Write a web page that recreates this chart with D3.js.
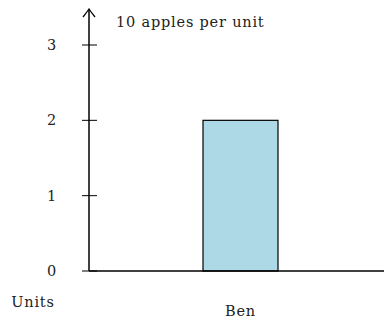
<!DOCTYPE html>
<html>
<head>
<meta charset="utf-8">
<script src="https://cdn.jsdelivr.net/npm/d3@7"></script>
<style>
  body { margin: 0; background: #fff; }
  text { font-family: "DejaVu Serif", serif; font-size: 14.5px; letter-spacing: 0.8px; fill: #222; }
</style>
</head>
<body>
<div id="chart"></div>
<script>
const categories = ["Ben"];
const values = [2];
const yTicks = [0, 1, 2, 3];
const title = "10 apples per unit";
const yLabel = "Units";

const width = 384, height = 320;
const x0 = 89, y0 = 271;

const svg = d3.select("#chart").append("svg")
    .attr("width", width)
    .attr("height", height);

const y = d3.scaleLinear().domain([0, 3]).range([y0, 45]);
const x = d3.scaleBand().domain(categories).range([128, 353]).padding(0.5);

// bars
svg.selectAll("rect.bar")
    .data(values)
    .enter()
    .append("rect")
    .attr("class", "bar")
    .attr("x", (d, i) => x(categories[i]))
    .attr("y", d => y(d))
    .attr("width", x.bandwidth())
    .attr("height", d => y(0) - y(d))
    .attr("fill", "#add8e6")
    .attr("stroke", "#000")
    .attr("stroke-width", 1.2);

// x axis line
svg.append("line")
    .attr("x1", x0).attr("x2", width)
    .attr("y1", y0).attr("y2", y0)
    .attr("stroke", "#000").attr("stroke-width", 1.5);

// y axis line with arrow
svg.append("line")
    .attr("x1", x0).attr("x2", x0)
    .attr("y1", y0).attr("y2", 10)
    .attr("stroke", "#000").attr("stroke-width", 1.5);
svg.append("path")
    .attr("d", "M" + (x0 - 6) + ",17 Q" + (x0 - 2) + ",12 " + x0 + ",9 Q" + (x0 + 2) + ",12 " + (x0 + 6) + ",17")
    .attr("fill", "none").attr("stroke", "#000").attr("stroke-width", 1.3);

// ticks
svg.selectAll("line.tick")
    .data(yTicks)
    .enter()
    .append("line")
    .attr("class", "tick")
    .attr("x1", x0 - 7).attr("x2", x0 + 8)
    .attr("y1", d => y(d)).attr("y2", d => y(d))
    .attr("stroke", "#000").attr("stroke-width", 1);

svg.selectAll("text.ytick")
    .data(yTicks)
    .enter()
    .append("text")
    .attr("class", "ytick")
    .attr("x", 52)
    .attr("y", d => y(d))
    .attr("dy", "0.35em")
    .attr("text-anchor", "middle")
    .text(d => d);

// category labels
svg.selectAll("text.xlab")
    .data(categories)
    .enter()
    .append("text")
    .attr("class", "xlab")
    .attr("x", d => x(d) + x.bandwidth() / 2)
    .attr("y", 311)
    .attr("dy", "0.35em")
    .attr("text-anchor", "middle")
    .text(d => d);

svg.append("text")
    .attr("x", 33).attr("y", 302)
    .attr("dy", "0.35em")
    .attr("text-anchor", "middle")
    .text(yLabel);

svg.append("text")
    .attr("x", 116).attr("y", 22)
    .attr("dy", "0.35em")
    .text(title);
</script>
</body>
</html>
